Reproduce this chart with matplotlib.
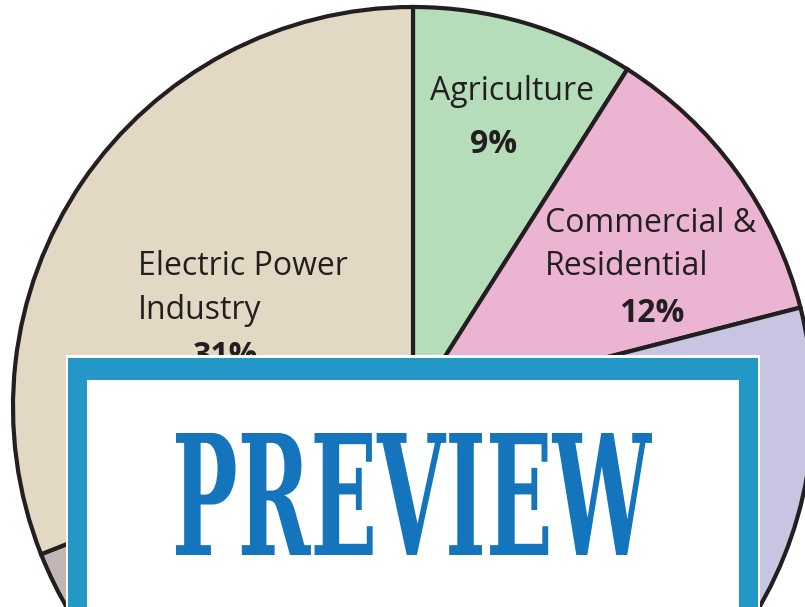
import matplotlib.pyplot as plt
from matplotlib.patches import Rectangle, PathPatch
from matplotlib.textpath import TextPath
from matplotlib.font_manager import FontProperties
from matplotlib.transforms import Affine2D

# pie data, clockwise from 12 o'clock
sectors = ['Agriculture', 'Commercial &\nResidential', 'Transportation', 'Industry',
           'Electric Power\nIndustry']
shares = [9, 12, 27, 21, 31]
colors = ['#b5ddb9', '#ecb4d3', '#c8c5e2', '#c1b6b5', '#e3d8c3']

W, H = 805, 607
fig = plt.figure(figsize=(W / 100, H / 100), dpi=100)
ax = fig.add_axes([0, 0, 1, 1])

cx, cy, r = 413, H - 407, 400
ax.pie(shares, colors=colors, startangle=90, counterclock=False,
       center=(cx, cy), radius=r,
       wedgeprops=dict(edgecolor='#231f20', linewidth=3))
ax.set_xlim(0, W)
ax.set_ylim(0, H)
ax.set_aspect('auto')
ax.axis('off')

font = 'Open Sans'
txt = '#231f20'
fs = 23


def label(name, pct, x, baselines, ha, pct_x, pct_base, z=2):
    # one text per line so each baseline sits where the reference has it
    for line, b in zip(name.split('\n'), baselines):
        ax.text(x, H - b, line, ha=ha, va='baseline', fontsize=fs, family=font,
                color=txt, zorder=z)
    ax.text(pct_x, H - pct_base, f'{pct}%', ha='center', va='baseline', fontsize=fs,
            family=font, weight='bold', color=txt, zorder=z)


label(sectors[0], shares[0], 512, [100], 'center', 494, 153)
label(sectors[1], shares[1], 545, [232, 275], 'left', 652, 322)
label(sectors[4], shares[4], 138, [275, 319], 'left', 225, 365)
# these two sit under the preview box
label(sectors[2], shares[2], 640, [470], 'center', 640, 515, z=1)
label(sectors[3], shares[3], 300, [560], 'center', 300, 600, z=1)

# preview frame
ax.add_patch(Rectangle((66, -10), 694, H - 355 + 10, facecolor='white', zorder=5))
ax.add_patch(Rectangle((68, -10), 690, H - 358 + 10, facecolor='#2398c6', zorder=6))
ax.add_patch(Rectangle((87, -10), 652, H - 380 + 10, facecolor='white', zorder=7))

tp = TextPath((0, 0), 'PREVIEW', size=100,
              prop=FontProperties(family='DejaVu Serif', weight='bold'))
ext = tp.get_extents()
x0, x1, y0, y1 = 176, 652, 433, 555
tr = (Affine2D().translate(-ext.x0, -ext.y0)
      .scale((x1 - x0) / ext.width, (y1 - y0) / ext.height)
      .translate(x0, H - y1))
ax.add_patch(PathPatch(tr.transform_path(tp), facecolor='#1474bc', edgecolor='none', zorder=8))

fig.savefig('out.png', dpi=100)
